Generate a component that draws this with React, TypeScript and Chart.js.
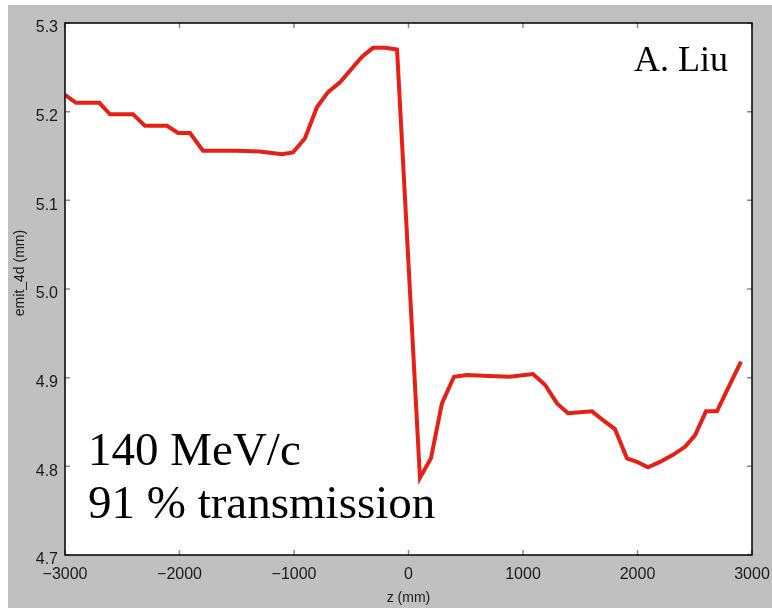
import React, { useEffect, useRef } from "react";
import { Chart, registerables } from "chart.js";

Chart.register(...registerables);

const zPositions = [
  -3000, -2904, -2700, -2607, -2406, -2301, -2109, -2013, -1908, -1795,
  -1700, -1500, -1300, -1105, -1009, -904, -800, -703, -598, -406,
  -310, -205, -100, 100, 196, 292, 397, 511, 700, 886,
  1087, 1192, 1297, 1393, 1498, 1603, 1699, 1803, 1908, 1996,
  2092, 2196, 2310, 2415, 2502, 2598, 2694, 2790, 2904,
];
const emitValues = [
  5.219, 5.21, 5.21, 5.197, 5.197, 5.184, 5.184, 5.176, 5.176, 5.156,
  5.156, 5.156, 5.155, 5.152, 5.154, 5.17, 5.205, 5.222, 5.233, 5.262,
  5.272, 5.272, 5.27, 4.787, 4.809, 4.871, 4.901, 4.903, 4.902, 4.901,
  4.904, 4.892, 4.871, 4.86, 4.861, 4.862, 4.852, 4.842, 4.809, 4.805,
  4.799, 4.805, 4.813, 4.822, 4.835, 4.862, 4.862, 4.888, 4.918,
];
const xTickValues = [-3000, -2000, -1000, 0, 1000, 2000, 3000];
const yTickValues = [4.7, 4.8, 4.9, 5.0, 5.1, 5.2, 5.3];
const annotationLines = ["140 MeV/c", "91 % transmission"];
const authorText = "A. Liu";
const yTitle = "emit_4d (mm)";

const framePlugin = {
  id: "frame",
  beforeDraw(chart: any) {
    const { ctx, chartArea: a, width, height } = chart;
    ctx.save();
    ctx.fillStyle = "#c0c0c0";
    ctx.fillRect(0, 0, width, height);
    ctx.fillStyle = "#ffffff";
    ctx.fillRect(a.left, a.top, a.right - a.left, a.bottom - a.top);
    ctx.restore();
  },
  afterDraw(chart: any) {
    const { ctx, chartArea: a, scales } = chart;
    ctx.save();
    // inward ticks
    ctx.strokeStyle = "#8a8a8a";
    ctx.lineWidth = 1.5;
    const tl = 5;
    xTickValues.forEach((v) => {
      const x = scales.x.getPixelForValue(v);
      ctx.beginPath();
      ctx.moveTo(x, a.bottom);
      ctx.lineTo(x, a.bottom - tl);
      ctx.moveTo(x, a.top);
      ctx.lineTo(x, a.top + tl);
      ctx.stroke();
    });
    yTickValues.forEach((v) => {
      const y = scales.y.getPixelForValue(v);
      ctx.beginPath();
      ctx.moveTo(a.left, y);
      ctx.lineTo(a.left + tl, y);
      ctx.moveTo(a.right, y);
      ctx.lineTo(a.right - tl, y);
      ctx.stroke();
    });
    // frame
    ctx.strokeStyle = "#000000";
    ctx.lineWidth = 1.5;
    ctx.strokeRect(a.left, a.top, a.right - a.left, a.bottom - a.top);
    // y axis title
    ctx.fillStyle = "#1a1a1a";
    ctx.font = "14px 'Liberation Sans', Arial, sans-serif";
    ctx.textAlign = "center";
    ctx.textBaseline = "middle";
    ctx.translate(12, (a.top + a.bottom) / 2 - 16);
    ctx.rotate(-Math.PI / 2);
    ctx.fillText(yTitle, 0, 0);
    ctx.setTransform(1, 0, 0, 1, 0, 0);
    // annotations
    ctx.fillStyle = "#000000";
    ctx.textBaseline = "alphabetic";
    ctx.textAlign = "left";
    ctx.font = "47px 'Liberation Serif', serif";
    ctx.fillText(annotationLines[0], a.left + 23, a.bottom - 90);
    ctx.fillText(annotationLines[1], a.left + 23, a.bottom - 37);
    ctx.textAlign = "right";
    ctx.font = "36px 'Liberation Serif', serif";
    ctx.fillText(authorText, a.right - 24, a.top + 48);
    ctx.restore();
  },
};

export default function App() {
  const canvasRef = useRef<HTMLCanvasElement | null>(null);

  useEffect(() => {
    if (!canvasRef.current) return;
    const points = zPositions.map((z, i) => ({ x: z, y: emitValues[i] }));
    const chart = new Chart(canvasRef.current, {
      type: "line",
      data: {
        datasets: [
          {
            data: points,
            borderColor: "rgb(230,32,22)",
            borderWidth: 4,
            pointRadius: 0,
            tension: 0,
            fill: false,
          },
        ],
      },
      options: {
        animation: false,
        responsive: false,
        maintainAspectRatio: false,
        layout: { padding: { top: 18, right: 20, left: 0, bottom: 0 } },
        plugins: {
          legend: { display: false },
          tooltip: { enabled: false },
        },
        scales: {
          x: {
            type: "linear",
            min: -3000,
            max: 3000,
            grid: { display: false, drawTicks: false },
            border: { display: false },
            afterBuildTicks: (s: any) => {
              s.ticks = xTickValues.map((v) => ({ value: v }));
            },
            afterFit: (s: any) => {
              s.height = 53;
              s.paddingLeft = 0;
              s.paddingRight = 0;
            },
            ticks: {
              autoSkip: false,
              maxRotation: 0,
              padding: 10,
              color: "#1a1a1a",
              font: { family: "'Liberation Sans', Arial, sans-serif", size: 16 },
              callback: (v: any) => {
                const n = Number(v);
                return n < 0 ? "\u2212" + Math.abs(n) : String(n);
              },
            },
            title: {
              display: true,
              text: "z (mm)",
              color: "#1a1a1a",
              font: { family: "'Liberation Sans', Arial, sans-serif", size: 14 },
              padding: { top: 0, bottom: 1 },
            },
          },
          y: {
            type: "linear",
            min: 4.7,
            max: 5.3,
            grid: { display: false, drawTicks: false },
            border: { display: false },
            afterBuildTicks: (s: any) => {
              s.ticks = yTickValues.map((v) => ({ value: v }));
            },
            afterFit: (s: any) => {
              s.width = 57;
              s.paddingTop = 0;
              s.paddingBottom = 0;
            },
            ticks: {
              autoSkip: false,
              padding: 7,
              labelOffset: 5,
              color: "#1a1a1a",
              font: { family: "'Liberation Sans', Arial, sans-serif", size: 16 },
              callback: (v: any) => Number(v).toFixed(1),
            },
            title: { display: false },
          },
        },
      },
      plugins: [framePlugin],
    });
    return () => chart.destroy();
  }, []);

  return (
    <div style={{ position: "fixed", left: 8, top: 5, width: 764, height: 603 }}>
      <canvas ref={canvasRef} width={764} height={603} style={{ display: "block", width: 764, height: 603 }} />
    </div>
  );
}
